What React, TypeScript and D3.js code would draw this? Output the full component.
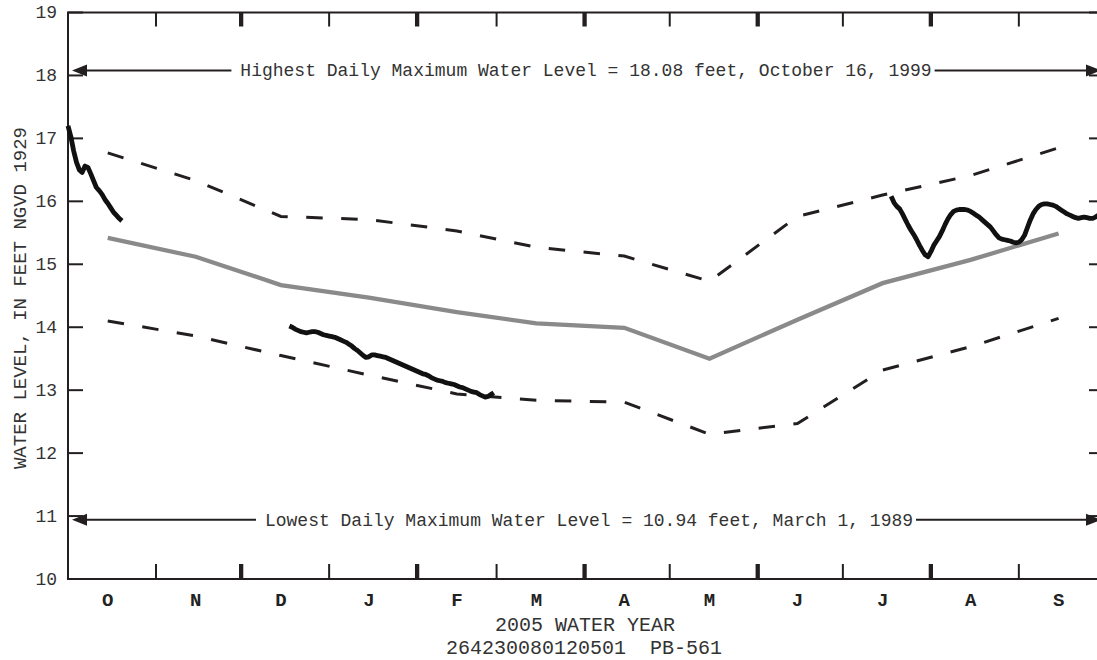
import React from "react";
import * as d3 from "d3";

// ---- Data ----
const monthLabels = ["O", "N", "D", "J", "F", "M", "A", "M", "J", "J", "A", "S"];
const monthMidDates = [
  "2004-10-15", "2004-11-15", "2004-12-15", "2005-01-15", "2005-02-15", "2005-03-15",
  "2005-04-15", "2005-05-15", "2005-06-15", "2005-07-15", "2005-08-15", "2005-09-15",
];
const upperLevels = [16.77, 16.33, 15.76, 15.71, 15.53, 15.27, 15.13, 14.73, 15.76, 16.1, 16.41, 16.85];
const medianLevels = [15.42, 15.12, 14.67, 14.47, 14.24, 14.06, 13.99, 13.5, 14.12, 14.7, 15.07, 15.49];
const lowerLevels = [14.1, 13.86, 13.55, 13.24, 12.94, 12.84, 12.81, 12.3, 12.47, 13.32, 13.69, 14.14];

const yTicks = [10, 11, 12, 13, 14, 15, 16, 17, 18, 19];

// daily observed water levels, in segments (start date + consecutive daily values)
const obs1Start = "2004-10-01";
const obs1Values = [
  17.2, 17.03, 16.8, 16.62, 16.5, 16.46, 16.56, 16.54, 16.44, 16.33,
  16.22, 16.17, 16.11, 16.03, 15.97, 15.9, 15.83, 15.78, 15.73, 15.69,
];
const obs2Start = "2004-12-18";
const obs2Values = [
  14.02, 14.0, 13.97, 13.95, 13.93, 13.92, 13.91, 13.92, 13.93, 13.93,
  13.92, 13.9, 13.88, 13.87, 13.86, 13.85, 13.84, 13.82, 13.8, 13.78,
  13.76, 13.73, 13.7, 13.66, 13.63, 13.59, 13.55, 13.52, 13.53, 13.56,
  13.56, 13.55, 13.54, 13.53, 13.52, 13.5, 13.48, 13.46, 13.44, 13.42,
  13.4, 13.38, 13.36, 13.34, 13.32, 13.3, 13.28, 13.26, 13.25, 13.23,
  13.2, 13.18, 13.16, 13.15, 13.14, 13.12, 13.11, 13.1, 13.09, 13.07,
  13.05, 13.04, 13.02, 13.0, 12.98, 12.97, 12.96, 12.93, 12.91, 12.89,
  12.9, 12.93, 12.96,
];
const obs3Start = "2005-07-18";
const obs3Values = [
  16.08, 15.98, 15.92, 15.88, 15.8, 15.71, 15.62, 15.54, 15.47, 15.39,
  15.3, 15.22, 15.15, 15.12, 15.2, 15.3, 15.37, 15.44, 15.53, 15.63,
  15.72, 15.79, 15.84, 15.86, 15.87, 15.87, 15.87, 15.86, 15.84, 15.81,
  15.78, 15.75, 15.71, 15.67, 15.63, 15.59, 15.53, 15.47, 15.42, 15.4,
  15.39, 15.38, 15.37, 15.35, 15.34, 15.35, 15.39, 15.46, 15.58, 15.7,
  15.8, 15.87, 15.92, 15.95, 15.96, 15.96, 15.95, 15.94, 15.92, 15.89,
  15.86, 15.83, 15.8, 15.78, 15.76, 15.74, 15.73, 15.74, 15.75, 15.74,
  15.73, 15.73, 15.75, 15.78, 15.8,
];

const highText = "Highest Daily Maximum Water Level = 18.08 feet, October 16, 1999";
const highValue = 18.08;
const lowText = "Lowest Daily Maximum Water Level = 10.94 feet, March 1, 1989";
const lowValue = 10.94;

const yTitle = "WATER LEVEL, IN FEET NGVD 1929";
const xTitle = "2005 WATER YEAR";
const siteTitle = "264230080120501  PB-561";

// ---- Layout ----
const W = 1097;
const H = 660;
const FONT = "'Courier New', 'Liberation Mono', monospace";
const INK = "#231f20";

const parse = (s: string) => new Date(s + "T00:00:00Z");

export default function App() {
  const x = d3
    .scaleUtc()
    .domain([parse("2004-10-01"), parse("2005-10-01")])
    .range([68, 1104]);
  const y = d3.scaleLinear().domain([10, 19]).range([579, 12.5]);

  const line = d3
    .line<[Date, number]>()
    .x((d) => x(d[0]))
    .y((d) => y(d[1]));

  const monthly = (vals: number[]) =>
    monthMidDates.map((s, i) => [parse(s), vals[i]] as [Date, number]);

  const daily = (start: string, vals: number[]) =>
    vals.map((v, i) => [d3.utcDay.offset(parse(start), i), v] as [Date, number]);

  const [x0, x1] = x.range();
  const [yb, yt] = y.range();

  const monthBounds = d3.utcMonth.range(parse("2004-11-01"), parse("2005-10-01"));

  const annFs = 18;
  const charW = annFs * 0.6;

  const annotation = (value: number, text: string, cx: number, key: string) => {
    const yy = y(value);
    const w = text.length * charW;
    const ts = cx - w / 2;
    const te = cx + w / 2;
    const tipL = x0 + 4;
    const tipR = x1 - 3;
    const ah = 15;
    const hw = 6;
    return (
      <g key={key}>
        <line x1={tipL + ah} x2={ts - 9} y1={yy} y2={yy} stroke={INK} strokeWidth={2} />
        <line x1={te + 3} x2={tipR - ah} y1={yy} y2={yy} stroke={INK} strokeWidth={2} />
        <polygon
          points={`${tipL},${yy} ${tipL + ah},${yy - hw} ${tipL + ah},${yy + hw}`}
          fill={INK}
        />
        <polygon
          points={`${tipR},${yy} ${tipR - ah},${yy - hw} ${tipR - ah},${yy + hw}`}
          fill={INK}
        />
        <text
          x={cx}
          y={yy}
          dy="0.32em"
          textAnchor="middle"
          fontFamily={FONT}
          fontSize={annFs}
          fill="#333"
        >
          {text}
        </text>
      </g>
    );
  };

  return (
    <svg
      width={W}
      height={H}
      style={{ position: "absolute", left: 0, top: 0, background: "#fff" }}
    >
      {/* frame */}
      <rect x={x0} y={yt} width={x1 - x0} height={yb - yt} fill="none" stroke={INK} strokeWidth={2} />

      {/* y ticks */}
      {yTicks.map((t) => (
        <g key={"yt" + t}>
          <line x1={x0} x2={x0 + 15} y1={y(t)} y2={y(t)} stroke={INK} strokeWidth={2} />
          <line x1={x1} x2={x1 - 15} y1={y(t)} y2={y(t)} stroke={INK} strokeWidth={2} />
          <text
            x={57}
            y={y(t)}
            dy="0.33em"
            textAnchor="end"
            fontFamily={FONT}
            fontSize={18}
            fill="#333"
          >
            {t}
          </text>
        </g>
      ))}

      {/* month boundary ticks */}
      {monthBounds.map((d, i) => {
        const thick = d.getUTCMonth() % 2 === 1;
        const sw = thick ? 4.3 : 2;
        return (
          <g key={"mt" + i}>
            <line x1={x(d)} x2={x(d)} y1={yt} y2={yt + 14} stroke={INK} strokeWidth={sw} />
            <line x1={x(d)} x2={x(d)} y1={yb} y2={yb - 15} stroke={INK} strokeWidth={sw} />
          </g>
        );
      })}

      {/* month labels */}
      {monthLabels.map((m, i) => (
        <text
          key={"ml" + i}
          x={x(parse(monthMidDates[i]))}
          y={606}
          textAnchor="middle"
          fontFamily={FONT}
          fontWeight="bold"
          fontSize={19}
          fill="#222"
        >
          {m}
        </text>
      ))}

      {/* titles */}
      <text
        x={(x0 + x1) / 2 - 1}
        y={631}
        textAnchor="middle"
        fontFamily={FONT}
        fontSize={20}
        fill="#333"
      >
        {xTitle}
      </text>
      <text
        x={(x0 + x1) / 2 - 2}
        y={654}
        textAnchor="middle"
        fontFamily={FONT}
        fontSize={20}
        fill="#333"
        style={{ whiteSpace: "pre" }}
      >
        {siteTitle}
      </text>
      <text
        transform={`translate(26,298) rotate(-90)`}
        textAnchor="middle"
        fontFamily={FONT}
        fontSize={19}
        fill="#333"
      >
        {yTitle}
      </text>

      {/* annotations */}
      {annotation(highValue, highText, 586, "hi")}
      {annotation(lowValue, lowText, 589, "lo")}

      {/* statistics lines */}
      <path
        d={line(monthly(upperLevels)) || ""}
        fill="none"
        stroke={INK}
        strokeWidth={3}
        strokeDasharray="16.5 18.5"
      />
      <path
        d={line(monthly(lowerLevels)) || ""}
        fill="none"
        stroke={INK}
        strokeWidth={3}
        strokeDasharray="16.5 18.5"
      />
      <path
        d={line(monthly(medianLevels)) || ""}
        fill="none"
        stroke="#8a8a8a"
        strokeWidth={4.3}
      />

      {/* observed daily levels */}
      {[
        daily(obs1Start, obs1Values),
        daily(obs2Start, obs2Values),
        daily(obs3Start, obs3Values),
      ].map((seg, i) => (
        <path
          key={"obs" + i}
          d={line(seg) || ""}
          fill="none"
          stroke="#111"
          strokeWidth={4.8}
          strokeLinejoin="round"
        />
      ))}
    </svg>
  );
}
